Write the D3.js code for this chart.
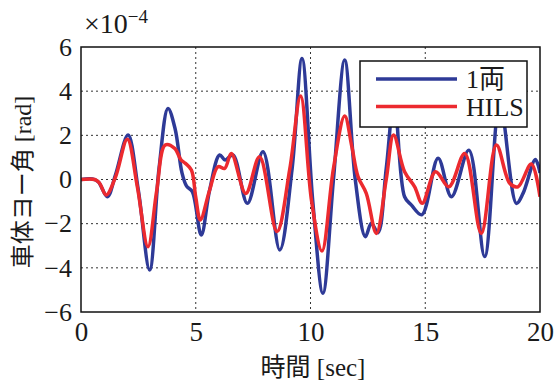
<!DOCTYPE html>
<html>
<head>
<meta charset="utf-8">
<script src="https://cdn.jsdelivr.net/npm/d3@7"></script>
<style>
  body { margin: 0; background: #fff; }
  text { font-family: "Liberation Serif", "Noto Sans CJK JP", serif; fill: #1a1a1a; }
</style>
</head>
<body>
<div id="chart"></div>
<script>
// tick labels
const xTicks = [0, 5, 10, 15, 20];
const yTicks = [-6, -4, -2, 0, 2, 4, 6];
const seriesNames = ["1両", "HILS"];

// 1両 (blue) - time [sec], value [x1e-4 rad]
const blueT = [0, 0.5, 0.75, 1.15, 1.5, 2.05, 2.5, 2.99, 3.4, 3.79, 4.1, 4.4, 4.6, 4.85, 5.24, 5.6, 6.04, 6.28, 6.62,
  7.25, 7.93, 8.66, 9.2, 9.63, 10.1, 10.54, 11.0, 11.49, 11.95, 12.39, 12.65, 12.94, 13.3, 13.65, 14.1, 14.39, 14.85,
  15.56, 16.14, 16.9, 17.59, 18.25, 18.97, 19.26, 19.8, 20];
const blueV = [0, 0.02, -0.1, -0.78, 0.2, 2.01, -0.5, -4.1, 0.5, 3.22, 2.3, 0.3, -0.3, -0.55, -2.51, -0.5, 1.11, 0.88, 1.11,
  -1.08, 1.26, -3.19, 0.5, 5.48, -1.0, -5.15, 0, 5.41, 0, -2.59, -1.98, -2.41, 0.5, 3.6, -0.78, -1.15, -1.6,
  0.96, -0.78, 1.33, -3.49, 3.5, -1.08, -0.63, 0.91, 0.3];

// HILS (red)
const redT = [0, 0.6, 0.8, 1.1, 1.5, 2.02, 2.45, 2.92, 3.3, 3.67, 4.08, 4.35, 4.55, 4.81, 5.0, 5.2, 5.6, 5.97, 6.26, 6.55,
  7.18, 7.78, 8.54, 9.1, 9.57, 10.05, 10.5, 11.0, 11.49, 11.8, 12.07, 12.43, 12.87, 13.3, 13.62, 14.1, 14.54, 14.87,
  15.45, 16.03, 16.72, 17.44, 18.1, 18.68, 19.04, 19.62, 20];
const redV = [0, 0, -0.15, -0.7, 0.1, 1.82, -0.3, -3.04, -0.5, 1.56, 1.41, 0.9, 0.73, 0.43, -0.8, -1.83, -0.5, 0.58, 0.5, 1.18,
  -0.63, 1.03, -2.36, 0.5, 3.78, -1.0, -3.24, 0.5, 2.87, 1.5, 0.13, -0.63, -2.44, 0, 2.01, 0.35, -0.33, -1.08,
  0.35, -0.33, 1.18, -2.44, 1.56, -0.17, -0.33, 0.7, -0.78];

const colors = ["#2e3a97", "#ec2a2f"];

const margin = {top: 47, right: 15, bottom: 69, left: 81};
const width = 555 - margin.left - margin.right;
const height = 381 - margin.top - margin.bottom;

const x = d3.scaleLinear().domain([0, 20]).range([0, width]);
const y = d3.scaleLinear().domain([-6, 6]).range([height, 0]);

const svg = d3.select("#chart")
    .append("svg")
    .attr("width", 555)
    .attr("height", 381);

const g = svg.append("g")
    .attr("transform", `translate(${margin.left},${margin.top})`);

// grid
g.append("g")
    .selectAll("line")
    .data(xTicks.slice(1, -1))
    .join("line")
    .attr("x1", d => x(d)).attr("x2", d => x(d))
    .attr("y1", 0).attr("y2", height)
    .attr("stroke", "#333").attr("stroke-width", 1).attr("stroke-dasharray", "2,3");

g.append("g")
    .selectAll("line")
    .data(yTicks.slice(1, -1))
    .join("line")
    .attr("x1", 0).attr("x2", width)
    .attr("y1", d => y(d)).attr("y2", d => y(d))
    .attr("stroke", "#333").attr("stroke-width", 1).attr("stroke-dasharray", "2,3");

// axes
const fmt = d => d < 0 ? "\u2212" + Math.abs(d) : d;

const xAxis = g.append("g")
    .attr("transform", `translate(0,${height})`)
    .call(d3.axisBottom(x).tickValues(xTicks).tickSize(0).tickPadding(10).tickFormat(fmt));
xAxis.select(".domain").remove();
xAxis.selectAll("text").style("font-size", "27px").attr("fill", "#1a1a1a");

const yAxis = g.append("g")
    .call(d3.axisLeft(y).tickValues(yTicks).tickSize(0).tickPadding(9).tickFormat(fmt));
yAxis.select(".domain").remove();
yAxis.selectAll("text").style("font-size", "26px").attr("fill", "#1a1a1a");

// lines
const line = d3.line()
    .x(d => x(d[0]))
    .y(d => y(d[1]))
    .curve(d3.curveCatmullRom.alpha(0.5));

const series = [d3.zip(blueT, blueV), d3.zip(redT, redV)];

g.append("defs").append("clipPath").attr("id", "clip")
    .append("rect").attr("width", width).attr("height", height);

g.append("g").attr("clip-path", "url(#clip)")
    .selectAll("path")
    .data(series)
    .join("path")
    .attr("fill", "none")
    .attr("stroke", (d, i) => colors[i])
    .attr("stroke-width", 3.5)
    .attr("stroke-linejoin", "round")
    .attr("d", line);

// frame
g.append("rect")
    .attr("width", width).attr("height", height)
    .attr("fill", "none").attr("stroke", "#111").attr("stroke-width", 1.5);

// exponent
const ex = g.append("text")
    .attr("x", 3).attr("y", -14)
    .style("font-size", "28px");
ex.append("tspan").text("\u00d710");
ex.append("tspan").attr("dy", -10).style("font-size", "19px").text("\u22124");

// legend
const lg = g.append("g").attr("transform", `translate(${360 - margin.left},${61 - margin.top})`);
lg.append("rect")
    .attr("width", 167).attr("height", 66)
    .attr("fill", "#fff").attr("stroke", "#111").attr("stroke-width", 1.5);
seriesNames.forEach((name, i) => {
  const yy = 18 + i * 27.5;
  lg.append("line")
      .attr("x1", 16).attr("x2", 97)
      .attr("y1", yy).attr("y2", yy)
      .attr("stroke", colors[i]).attr("stroke-width", 3.5);
  lg.append("text")
      .attr("x", 106).attr("y", yy)
      .attr("dy", "0.35em")
      .style("font-size", "26px")
      .text(name);
});

// axis labels
svg.append("text")
    .attr("x", 313).attr("y", 376)
    .attr("text-anchor", "middle")
    .style("font-size", "25px")
    .text("時間 [sec]");

svg.append("text")
    .attr("transform", "translate(31,182) rotate(-90)")
    .attr("text-anchor", "middle")
    .style("font-size", "24px")
    .text("車体ヨー角 [rad]");
</script>
</body>
</html>
